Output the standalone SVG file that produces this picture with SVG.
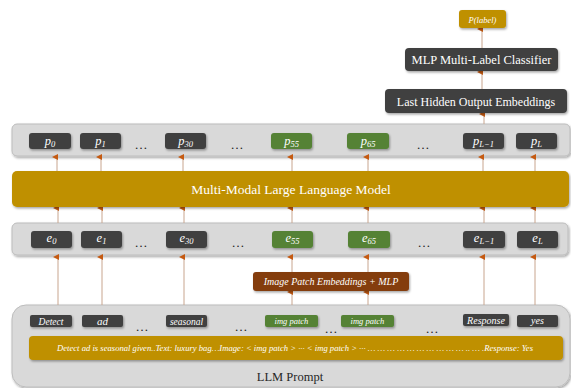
<svg xmlns="http://www.w3.org/2000/svg" width="571" height="388" viewBox="0 0 571 388">
<defs>
<filter id="sh" x="-10%" y="-20%" width="130%" height="160%">
<feDropShadow dx="1" dy="1.5" stdDeviation="1" flood-color="#000" flood-opacity="0.35"/>
</filter>
<marker id="ah" markerWidth="6" markerHeight="6" refX="3" refY="5" orient="auto-start-reverse" markerUnits="userSpaceOnUse" viewBox="0 0 6 6">
<path d="M0,6 L3,0 L6,6 Z" fill="#C55A11"/>
</marker>
</defs>
<style>
.panel{fill:#D9D9D9;stroke:#BDBDBD;stroke-width:1;filter:url(#sh)}
.gold{fill:#BF9000;filter:url(#sh)}
.dark{fill:#404040;filter:url(#sh)}
.green{fill:#548235;filter:url(#sh)}
.brown{fill:#843C0C;filter:url(#sh)}
.t{font-family:"Liberation Serif","Times New Roman",serif;fill:#fff;text-anchor:middle}
.it{font-style:italic}
.dots{font-family:"Liberation Serif",serif;font-size:13px;fill:#222;text-anchor:middle}
.cn line{stroke:#C8A58E;stroke-width:1;marker-end:url(#ah)}
</style>
<rect width="571" height="388" fill="#fff"/>

<!-- panels -->
<g id="prompt-panel">
<rect class="panel" x="12" y="305" width="558" height="82" rx="14"/>
<text class="t" x="290" y="381" font-size="12.5" style="fill:#262626">LLM Prompt</text>
</g>
<g id="e-panel"><rect class="panel" x="12" y="223" width="556" height="32" rx="5"/></g>
<g id="p-panel"><rect class="panel" x="12" y="124" width="558" height="32" rx="5"/></g>

<!-- connectors -->
<g id="connectors" class="cn">
<line x1="482" y1="48" x2="482" y2="29"/>
<line x1="482" y1="89" x2="482" y2="72"/>
<line x1="484" y1="124" x2="484" y2="114"/>
<line x1="57" y1="171" x2="57" y2="157"/>
<line x1="101" y1="171" x2="101" y2="157"/>
<line x1="183" y1="171" x2="183" y2="157"/>
<line x1="292" y1="171" x2="292" y2="157"/>
<line x1="368" y1="171" x2="368" y2="157"/>
<line x1="483" y1="171" x2="483" y2="157"/>
<line x1="535" y1="171" x2="535" y2="157"/>
<line x1="58" y1="223" x2="58" y2="208"/>
<line x1="102" y1="223" x2="102" y2="208"/>
<line x1="184" y1="223" x2="184" y2="208"/>
<line x1="292" y1="223" x2="292" y2="208"/>
<line x1="368" y1="223" x2="368" y2="208"/>
<line x1="484" y1="223" x2="484" y2="208"/>
<line x1="535" y1="223" x2="535" y2="208"/>
<line x1="58" y1="305" x2="58" y2="257"/>
<line x1="102" y1="305" x2="102" y2="257"/>
<line x1="184" y1="305" x2="184" y2="257"/>
<line x1="484" y1="305" x2="484" y2="257"/>
<line x1="535" y1="305" x2="535" y2="257"/>
<line x1="292" y1="305" x2="292" y2="292"/>
<line x1="368" y1="305" x2="368" y2="292"/>
<line x1="292" y1="272" x2="292" y2="257"/>
<line x1="368" y1="272" x2="368" y2="257"/>
</g>

<!-- top nodes -->
<g id="plabel"><rect class="gold" x="459" y="10" width="47" height="18" rx="3"/>
<text class="t it" x="482.5" y="22.5" font-size="8.5">P(label)</text></g>
<g id="mlp"><rect class="dark" x="405" y="48" width="153" height="23" rx="4"/>
<text class="t" x="481.5" y="64" font-size="12.5">MLP Multi-Label Classifier</text></g>
<g id="lasthidden"><rect class="dark" x="385" y="89" width="182" height="24" rx="4"/>
<text class="t" x="476" y="105.5" font-size="12">Last Hidden Output Embeddings</text></g>

<!-- LLM -->
<g id="llm"><rect class="gold" x="12" y="171" width="557" height="36" rx="5"/>
<text class="t" x="291" y="193.5" font-size="13.5">Multi-Modal Large Language Model</text></g>

<!-- p tokens -->
<g id="p0"><rect class="dark" x="29" y="133" width="42" height="16" rx="3"/><text class="t it" x="50" y="145" font-size="12.5">p<tspan font-size="8.5" dy="2">0</tspan></text></g>
<g id="p1"><rect class="dark" x="80" y="133" width="41" height="16" rx="3"/><text class="t it" x="100.5" y="145" font-size="12.5">p<tspan font-size="8.5" dy="2">1</tspan></text></g>
<g id="p30"><rect class="dark" x="165" y="133" width="41" height="16" rx="3"/><text class="t it" x="185.5" y="145" font-size="12.5">p<tspan font-size="8.5" dy="2">30</tspan></text></g>
<g id="p55"><rect class="green" x="271" y="133" width="41" height="16" rx="3"/><text class="t it" x="291.5" y="145" font-size="12.5">p<tspan font-size="8.5" dy="2">55</tspan></text></g>
<g id="p65"><rect class="green" x="347" y="133" width="42" height="16" rx="3"/><text class="t it" x="368" y="145" font-size="12.5">p<tspan font-size="8.5" dy="2">65</tspan></text></g>
<g id="pL1"><rect class="dark" x="463" y="133" width="41" height="16" rx="3"/><text class="t it" x="483.5" y="145" font-size="12.5">p<tspan font-size="8.5" dy="2">L−1</tspan></text></g>
<g id="pL"><rect class="dark" x="516" y="133" width="41" height="16" rx="3"/><text class="t it" x="536.5" y="145" font-size="12.5">p<tspan font-size="8.5" dy="2">L</tspan></text></g>
<g id="pdots"><text class="dots" x="141" y="149">…</text><text class="dots" x="237" y="149">…</text><text class="dots" x="423" y="149">…</text></g>

<!-- e tokens -->
<g id="e0"><rect class="dark" x="31" y="231" width="41" height="17" rx="3"/><text class="t it" x="51.5" y="242" font-size="12.5">e<tspan font-size="8.5" dy="2">0</tspan></text></g>
<g id="e1"><rect class="dark" x="81" y="231" width="41" height="17" rx="3"/><text class="t it" x="101.5" y="242" font-size="12.5">e<tspan font-size="8.5" dy="2">1</tspan></text></g>
<g id="e30"><rect class="dark" x="166" y="231" width="41" height="17" rx="3"/><text class="t it" x="186.5" y="242" font-size="12.5">e<tspan font-size="8.5" dy="2">30</tspan></text></g>
<g id="e55"><rect class="green" x="272" y="231" width="41" height="17" rx="3"/><text class="t it" x="292.5" y="242" font-size="12.5">e<tspan font-size="8.5" dy="2">55</tspan></text></g>
<g id="e65"><rect class="green" x="348" y="231" width="42" height="17" rx="3"/><text class="t it" x="369" y="242" font-size="12.5">e<tspan font-size="8.5" dy="2">65</tspan></text></g>
<g id="eL1"><rect class="dark" x="463" y="231" width="42" height="17" rx="3"/><text class="t it" x="484" y="242" font-size="12.5">e<tspan font-size="8.5" dy="2">L−1</tspan></text></g>
<g id="eL"><rect class="dark" x="517" y="231" width="41" height="17" rx="3"/><text class="t it" x="537.5" y="242" font-size="12.5">e<tspan font-size="8.5" dy="2">L</tspan></text></g>
<g id="edots"><text class="dots" x="141" y="247">…</text><text class="dots" x="238" y="247">…</text><text class="dots" x="424" y="247">…</text></g>

<!-- image patch -->
<g id="imgpatch"><rect class="brown" x="253" y="272" width="156" height="19" rx="3"/>
<text class="t it" x="331" y="285" font-size="10">Image Patch Embeddings + MLP</text></g>

<!-- prompt tokens -->
<g id="t-detect"><rect class="dark" x="30" y="315" width="42" height="12" rx="2"/><text class="t it" x="51" y="324.5" font-size="9.5">Detect</text></g>
<g id="t-ad"><rect class="dark" x="82" y="315" width="41" height="12" rx="2"/><text class="t it" x="102.5" y="325" font-size="11">ad</text></g>
<g id="t-seasonal"><rect class="dark" x="166" y="315" width="41" height="12" rx="2"/><text class="t it" x="186.5" y="324.5" font-size="9.5">seasonal</text></g>
<g id="t-img1"><rect class="green" x="265" y="315" width="53" height="12" rx="2"/><text class="t it" x="291.5" y="324" font-size="8.5">img patch</text></g>
<g id="t-img2"><rect class="green" x="341" y="315" width="53" height="12" rx="2"/><text class="t it" x="367.5" y="324" font-size="8.5">img patch</text></g>
<g id="t-response"><rect class="dark" x="463" y="314" width="46" height="12" rx="2"/><text class="t it" x="486" y="323.5" font-size="10">Response</text></g>
<g id="t-yes"><rect class="dark" x="517" y="315" width="41" height="12" rx="2"/><text class="t it" x="537.5" y="324" font-size="10">yes</text></g>
<g id="tdots"><text class="dots" x="142" y="331">…</text><text class="dots" x="241" y="331">…</text><text class="dots" x="331" y="333">…</text><text class="dots" x="432" y="333">…</text></g>

<g id="prompt-bar"><rect class="gold" x="29" y="336" width="534" height="24" rx="4"/>
<text class="t it" x="57" y="351" font-size="9" style="text-anchor:start" textLength="476" lengthAdjust="spacingAndGlyphs">Detect ad is seasonal given..Text: luxury bag…Image: &lt; img patch &gt; ··· &lt; img patch &gt; ··· … … … … … … … … … … .. … .Response: Yes</text></g>
</svg>
